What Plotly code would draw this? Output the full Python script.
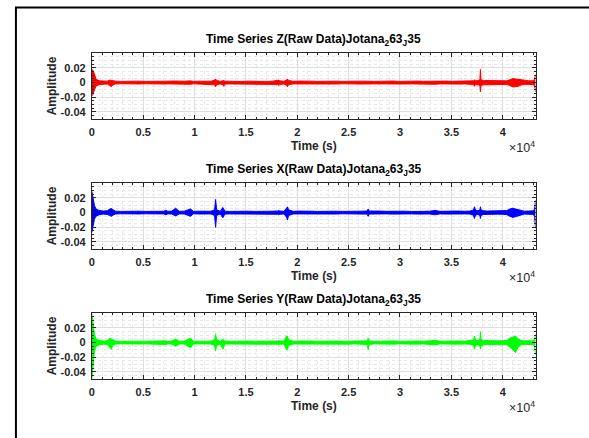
import plotly.graph_objects as go

# Sample times (s) at which the envelope of each raw trace is given
t_s = [
    0, 100, 250, 400, 700, 1100, 1500, 1750, 1900, 2050,
    2300, 2800, 3400, 4000, 4600, 5200, 5800, 6400, 7000, 7200,
    7400, 7800, 8150, 8500, 9000, 9600, 9900, 10400, 11000, 11600,
    11950, 12050, 12150, 12500, 12750, 12850, 12950, 13400, 14000, 14600,
    15200, 15800, 16400, 17000, 17600, 18100, 18200, 18300, 18700, 18950,
    19050, 19150, 19600, 20200, 20800, 21400, 22000, 22600, 23200, 23800,
    24400, 25000, 25600, 26200, 26800, 26900, 27000, 27500, 28100, 28700,
    29300, 29900, 30500, 31100, 31700, 32300, 32900, 33400, 33900, 34500,
    35100, 35700, 36300, 36800, 37150, 37250, 37350, 37600, 37780, 37830,
    37880, 38100, 38500, 39000, 39500, 40000, 40400, 40700, 41000, 41250,
    41500, 41800, 42100, 42500, 42900, 43100, 43200,
]

# Z component: upper / lower envelope of amplitude
z_hi = [
    0.018, 0.017, 0.012, 0.005, 0.0025, 0.0018, 0.002, 0.0035, 0.003, 0.0025,
    0.002, 0.0017, 0.0021, 0.0016, 0.002, 0.0017, 0.0021, 0.0016, 0.0019, 0.002,
    0.0017, 0.0021, 0.0022, 0.0017, 0.0019, 0.0024, 0.0017, 0.002, 0.0016, 0.0019,
    0.0035, 0.005, 0.003, 0.0018, 0.0025, 0.003, 0.002, 0.0017, 0.0021, 0.0016,
    0.002, 0.0017, 0.0021, 0.0016, 0.002, 0.0025, 0.0035, 0.0025, 0.0018, 0.0035,
    0.005, 0.003, 0.0018, 0.0021, 0.0016, 0.002, 0.0017, 0.0021, 0.0016, 0.002,
    0.0017, 0.0021, 0.0016, 0.002, 0.0019, 0.0024, 0.0019, 0.0017, 0.0021, 0.0018,
    0.0022, 0.0017, 0.002, 0.0016, 0.0021, 0.0018, 0.002, 0.0024, 0.0018, 0.0021,
    0.0018, 0.0022, 0.0019, 0.0021, 0.0025, 0.004, 0.0025, 0.0028, 0.004, 0.018,
    0.004, 0.003, 0.0028, 0.0032, 0.0026, 0.003, 0.0024, 0.004, 0.0055, 0.005,
    0.0045, 0.003, 0.0024, 0.0026, 0.0025, 0.004, 0.011,
]
z_lo = [
    -0.018, -0.016, -0.010, -0.005, -0.0025, -0.0017, -0.0019, -0.004, -0.0055, -0.003,
    -0.0019, -0.0016, -0.0019, -0.0017, -0.0018, -0.0016, -0.002, -0.0017, -0.0018, -0.0019,
    -0.0017, -0.0019, -0.002, -0.0016, -0.0018, -0.0022, -0.0016, -0.0019, -0.0017, -0.0018,
    -0.003, -0.0055, -0.003, -0.0017, -0.003, -0.005, -0.002, -0.0018, -0.0019, -0.0016,
    -0.0019, -0.0017, -0.0019, -0.0016, -0.0019, -0.0025, -0.004, -0.0025, -0.0018, -0.0035,
    -0.0055, -0.003, -0.0018, -0.0019, -0.0017, -0.0019, -0.0016, -0.002, -0.0017, -0.0019,
    -0.0016, -0.002, -0.0017, -0.0019, -0.0018, -0.0022, -0.0018, -0.0017, -0.0019, -0.0017,
    -0.002, -0.0016, -0.0019, -0.0017, -0.002, -0.0017, -0.0019, -0.0022, -0.0017, -0.002,
    -0.0017, -0.002, -0.0018, -0.002, -0.0025, -0.005, -0.0025, -0.0028, -0.004, -0.0126,
    -0.004, -0.003, -0.0028, -0.003, -0.0026, -0.0028, -0.0024, -0.004, -0.006, -0.0055,
    -0.005, -0.0032, -0.0024, -0.0026, -0.0025, -0.004, -0.0126,
]

# X component
x_hi = [
    0.029, 0.02, 0.01, 0.005, 0.003, 0.0022, 0.0025, 0.005, 0.0055, 0.004,
    0.002, 0.0017, 0.0021, 0.0016, 0.002, 0.0017, 0.0021, 0.0018, 0.0019, 0.0032,
    0.0018, 0.0021, 0.006, 0.0019, 0.002, 0.005, 0.0017, 0.002, 0.0016, 0.0019,
    0.004, 0.018, 0.004, 0.0018, 0.007, 0.004, 0.002, 0.0017, 0.0021, 0.0016,
    0.002, 0.0017, 0.0021, 0.0016, 0.002, 0.0022, 0.003, 0.0022, 0.0018, 0.006,
    0.008, 0.004, 0.0018, 0.0021, 0.0016, 0.002, 0.0017, 0.0021, 0.0016, 0.002,
    0.0017, 0.0021, 0.0016, 0.002, 0.0022, 0.005, 0.0022, 0.0017, 0.0021, 0.0018,
    0.0022, 0.0017, 0.002, 0.0016, 0.0021, 0.0018, 0.002, 0.003, 0.0018, 0.0021,
    0.0018, 0.0022, 0.0019, 0.0021, 0.0035, 0.008, 0.0035, 0.0025, 0.004, 0.008,
    0.004, 0.0025, 0.0022, 0.0025, 0.0021, 0.0024, 0.0028, 0.005, 0.006, 0.005,
    0.004, 0.0025, 0.002, 0.0022, 0.0024, 0.004, 0.0167,
]
x_lo = [
    -0.027, -0.018, -0.009, -0.005, -0.003, -0.002, -0.0025, -0.004, -0.005, -0.0035,
    -0.0019, -0.0016, -0.0019, -0.0017, -0.0018, -0.0016, -0.002, -0.0017, -0.0018, -0.003,
    -0.0017, -0.0019, -0.0045, -0.0018, -0.0018, -0.005, -0.0016, -0.0019, -0.0017, -0.0018,
    -0.004, -0.02, -0.004, -0.0017, -0.007, -0.004, -0.002, -0.0018, -0.0019, -0.0016,
    -0.0019, -0.0017, -0.0019, -0.0016, -0.0019, -0.0022, -0.003, -0.0022, -0.0018, -0.006,
    -0.01, -0.004, -0.0018, -0.0019, -0.0017, -0.0019, -0.0016, -0.002, -0.0017, -0.0019,
    -0.0016, -0.002, -0.0017, -0.0019, -0.002, -0.005, -0.002, -0.0017, -0.0019, -0.0017,
    -0.002, -0.0016, -0.0019, -0.0017, -0.002, -0.0017, -0.0019, -0.003, -0.0017, -0.002,
    -0.0017, -0.002, -0.0018, -0.002, -0.0035, -0.008, -0.0035, -0.0025, -0.004, -0.008,
    -0.004, -0.0025, -0.0022, -0.0024, -0.0021, -0.0023, -0.0028, -0.005, -0.0065, -0.0055,
    -0.0045, -0.0025, -0.002, -0.0022, -0.0024, -0.004, -0.0217,
]

# Y component
y_hi = [
    0.04, 0.03, 0.012, 0.005, 0.003, 0.0022, 0.0025, 0.006, 0.005, 0.0035,
    0.0021, 0.0018, 0.0022, 0.0017, 0.002, 0.0018, 0.0022, 0.0019, 0.002, 0.0025,
    0.0018, 0.0022, 0.005, 0.002, 0.0021, 0.006, 0.0018, 0.0021, 0.0017, 0.002,
    0.004, 0.0113, 0.004, 0.0019, 0.0045, 0.003, 0.0021, 0.0018, 0.0022, 0.0017,
    0.0021, 0.0018, 0.0022, 0.0017, 0.0021, 0.0022, 0.003, 0.0022, 0.0019, 0.009,
    0.009, 0.004, 0.0019, 0.0022, 0.0017, 0.0021, 0.0018, 0.0022, 0.0017, 0.0021,
    0.0018, 0.0022, 0.0017, 0.0021, 0.0024, 0.006, 0.0024, 0.0018, 0.0022, 0.0019,
    0.0023, 0.0018, 0.0021, 0.0017, 0.0022, 0.0019, 0.0021, 0.003, 0.0019, 0.0022,
    0.0019, 0.0023, 0.002, 0.0024, 0.0035, 0.009, 0.0035, 0.003, 0.0045, 0.015,
    0.0045, 0.003, 0.0025, 0.0028, 0.0024, 0.0027, 0.003, 0.006, 0.008, 0.009,
    0.005, 0.003, 0.0024, 0.0025, 0.0026, 0.004, 0.012,
]
y_lo = [
    -0.049, -0.035, -0.012, -0.005, -0.003, -0.0022, -0.0025, -0.0065, -0.009, -0.004,
    -0.002, -0.0017, -0.002, -0.0018, -0.0019, -0.0017, -0.0021, -0.0018, -0.0019, -0.0025,
    -0.0018, -0.002, -0.005, -0.0019, -0.002, -0.007, -0.0017, -0.002, -0.0018, -0.0019,
    -0.004, -0.0113, -0.004, -0.0018, -0.009, -0.004, -0.002, -0.0019, -0.002, -0.0017,
    -0.002, -0.0018, -0.002, -0.0017, -0.002, -0.0022, -0.003, -0.0022, -0.0019, -0.0095,
    -0.0095, -0.004, -0.0019, -0.002, -0.0018, -0.002, -0.0017, -0.0021, -0.0018, -0.002,
    -0.0017, -0.0021, -0.0018, -0.002, -0.0024, -0.0095, -0.0024, -0.0017, -0.002, -0.0018,
    -0.0021, -0.0017, -0.002, -0.0018, -0.0021, -0.0018, -0.002, -0.003, -0.0018, -0.0021,
    -0.0018, -0.0021, -0.0019, -0.0022, -0.0035, -0.009, -0.0035, -0.003, -0.0045, -0.009,
    -0.0045, -0.003, -0.0025, -0.0027, -0.0024, -0.0026, -0.003, -0.006, -0.01, -0.0135,
    -0.006, -0.003, -0.0024, -0.0025, -0.0026, -0.004, -0.017,
]

x_tickvals = [0, 5000, 10000, 15000, 20000, 25000, 30000, 35000, 40000]
x_ticktext = ["0", "0.5", "1", "1.5", "2", "2.5", "3", "3.5", "4"]
y_tickvals = [-0.04, -0.02, 0, 0.02]
y_ticktext = ["-0.04", "-0.02", "0", "0.02"]

titles = [
    "Time Series Z(Raw Data)Jotana<sub>2</sub>63<sub>J</sub>35",
    "Time Series X(Raw Data)Jotana<sub>2</sub>63<sub>J</sub>35",
    "Time Series Y(Raw Data)Jotana<sub>2</sub>63<sub>J</sub>35",
]
series = [(z_lo, z_hi, "#ff0000"), (x_lo, x_hi, "#0000ff"), (y_lo, y_hi, "#00ff00")]

for lo, hi, _ in series:
    assert len(lo) == len(t_s) and len(hi) == len(t_s)

W, H = 589, 438
FONT = "Liberation Sans, Arial, sans-serif"
AX = "#262626"

# panel boxes in pixels: left, right, top, bottom
px_left, px_right = 89.3, 535.3
panel_tb = [(53.3, 119.3), (183.3, 249.3), (313.3, 379.3)]


def px(x):
    return x / W


def py(y):
    return 1 - y / H


fig = go.Figure()
annotations = []
layout_axes = {}

for i, ((lo, hi, color), title, (top, bot)) in enumerate(zip(series, titles, panel_tb), start=1):
    xa = "x" if i == 1 else f"x{i}"
    ya = "y" if i == 1 else f"y{i}"
    fig.add_trace(go.Scatter(x=t_s, y=lo, mode="lines", line=dict(color=color, width=1),
                             xaxis=xa, yaxis=ya, showlegend=False, hoverinfo="skip"))
    fig.add_trace(go.Scatter(x=t_s, y=hi, mode="lines", line=dict(color=color, width=1),
                             fill="tonexty", fillcolor=color,
                             xaxis=xa, yaxis=ya, showlegend=False, hoverinfo="skip"))

    common = dict(
        showline=True, linecolor=AX, linewidth=1, mirror="allticks",
        ticks="inside", ticklen=4, tickwidth=1, tickcolor=AX,
        showgrid=True, gridcolor="#dedede", gridwidth=1, zeroline=False,
        tickfont=dict(family=FONT, size=11, color=AX, weight="bold"),
    )
    layout_axes["xaxis" if i == 1 else f"xaxis{i}"] = dict(
        common, domain=[px(px_left), px(px_right)], range=[0, 43200],
        anchor=ya, tickmode="array", tickvals=x_tickvals, ticktext=x_ticktext,
        ticklabelstandoff=2,
        minor=dict(tickmode="linear", tick0=0, dtick=1000, ticks="inside", ticklen=2,
                   tickcolor=AX, showgrid=True, gridcolor="#e8e8e8", griddash="dot"),
    )
    layout_axes["yaxis" if i == 1 else f"yaxis{i}"] = dict(
        common, domain=[py(bot), py(top)], range=[-0.05, 0.04],
        anchor=xa, tickmode="array", tickvals=y_tickvals, ticktext=y_ticktext,
        ticklabelstandoff=3,
        minor=dict(tickmode="linear", tick0=0, dtick=0.005, ticks="inside", ticklen=2,
                   tickcolor=AX, showgrid=True, gridcolor="#e8e8e8", griddash="dot"),
    )

    mid_x = (px_left + px_right) / 2
    annotations += [
        dict(text=f"<b>{title}</b>", x=px(mid_x), y=py(top - 13), xref="paper", yref="paper",
             xanchor="center", yanchor="middle", showarrow=False,
             font=dict(family=FONT, size=12, color="#000000")),
        dict(text="<b>Amplitude</b>", x=px(49.3), y=py((top + bot) / 2), xref="paper",
             yref="paper", textangle=-90, xanchor="center", yanchor="middle", showarrow=False,
             font=dict(family=FONT, size=12, color=AX)),
        dict(text="<b>Time (s)</b>", x=px(mid_x), y=py(bot + 26.5), xref="paper", yref="paper",
             xanchor="center", yanchor="middle", showarrow=False,
             font=dict(family=FONT, size=12, color=AX)),
        dict(text="×10<sup>4</sup>", x=px(px_right + 1), y=py(bot + 28), xref="paper",
             yref="paper", xanchor="right", yanchor="middle", showarrow=False,
             font=dict(family=FONT, size=12.5, color=AX)),
    ]

# page frame around the figure
shapes = [
    dict(type="line", xref="paper", yref="paper", x0=px(13), x1=px(13), y0=py(7.5), y1=0,
         line=dict(color="#000000", width=2)),
    dict(type="line", xref="paper", yref="paper", x0=px(12), x1=1, y0=py(7.5), y1=py(7.5),
         line=dict(color="#000000", width=2)),
]

fig.update_layout(
    width=W, height=H, margin=dict(l=0, r=0, t=0, b=0),
    paper_bgcolor="#ffffff", plot_bgcolor="#ffffff",
    annotations=annotations, shapes=shapes, **layout_axes,
)

fig.write_html("out.html")
